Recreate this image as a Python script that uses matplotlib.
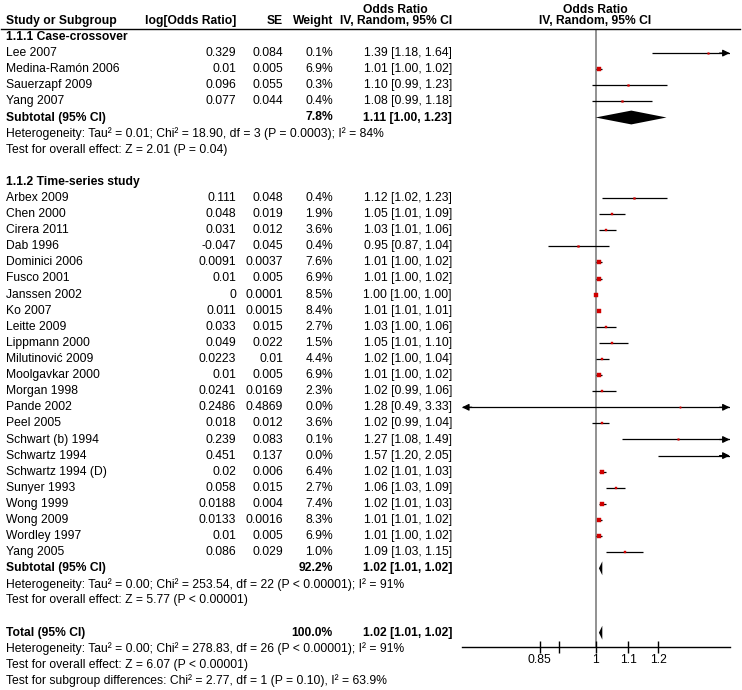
import matplotlib
matplotlib.use("Agg")
import matplotlib.pyplot as plt
from matplotlib.lines import Line2D
import numpy as np

plt.rcParams['font.family'] = ['Liberation Sans', 'DejaVu Sans']

# ---------------- data ----------------
group1_name = "1.1.1 Case-crossover"
group1_studies = ["Lee 2007", "Medina-Ramón 2006", "Sauerzapf 2009", "Yang 2007"]
group1_log = ["0.329", "0.01", "0.096", "0.077"]
group1_se = ["0.084", "0.005", "0.055", "0.044"]
group1_weight = [0.1, 6.9, 0.3, 0.4]
group1_or = [1.39, 1.01, 1.10, 1.08]
group1_lo = [1.18, 1.00, 0.99, 0.99]
group1_hi = [1.64, 1.02, 1.23, 1.18]
group1_sub = (7.8, 1.11, 1.00, 1.23)
group1_het = "Heterogeneity: Tau² = 0.01; Chi² = 18.90, df = 3 (P = 0.0003); I² = 84%"
group1_test = "Test for overall effect: Z = 2.01 (P = 0.04)"

group2_name = "1.1.2 Time-series study"
group2_studies = ["Arbex 2009", "Chen 2000", "Cirera 2011", "Dab 1996", "Dominici 2006",
                  "Fusco 2001", "Janssen 2002", "Ko 2007", "Leitte 2009", "Lippmann 2000",
                  "Milutinović 2009", "Moolgavkar 2000", "Morgan 1998", "Pande 2002",
                  "Peel 2005", "Schwart (b) 1994", "Schwartz 1994", "Schwartz 1994 (D)",
                  "Sunyer 1993", "Wong 1999", "Wong 2009", "Wordley 1997", "Yang 2005"]
group2_log = ["0.111", "0.048", "0.031", "-0.047", "0.0091", "0.01", "0", "0.011", "0.033",
              "0.049", "0.0223", "0.01", "0.0241", "0.2486", "0.018", "0.239", "0.451",
              "0.02", "0.058", "0.0188", "0.0133", "0.01", "0.086"]
group2_se = ["0.048", "0.019", "0.012", "0.045", "0.0037", "0.005", "0.0001", "0.0015",
             "0.015", "0.022", "0.01", "0.005", "0.0169", "0.4869", "0.012", "0.083",
             "0.137", "0.006", "0.015", "0.004", "0.0016", "0.005", "0.029"]
group2_weight = [0.4, 1.9, 3.6, 0.4, 7.6, 6.9, 8.5, 8.4, 2.7, 1.5, 4.4, 6.9, 2.3, 0.0,
                 3.6, 0.1, 0.0, 6.4, 2.7, 7.4, 8.3, 6.9, 1.0]
group2_or = [1.12, 1.05, 1.03, 0.95, 1.01, 1.01, 1.00, 1.01, 1.03, 1.05, 1.02, 1.01, 1.02,
             1.28, 1.02, 1.27, 1.57, 1.02, 1.06, 1.02, 1.01, 1.01, 1.09]
group2_lo = [1.02, 1.01, 1.01, 0.87, 1.00, 1.00, 1.00, 1.01, 1.00, 1.01, 1.00, 1.00, 0.99,
             0.49, 0.99, 1.08, 1.20, 1.01, 1.03, 1.01, 1.01, 1.00, 1.03]
group2_hi = [1.23, 1.09, 1.06, 1.04, 1.02, 1.02, 1.00, 1.01, 1.06, 1.10, 1.04, 1.02, 1.06,
             3.33, 1.04, 1.49, 2.05, 1.03, 1.09, 1.03, 1.02, 1.02, 1.15]
group2_sub = (92.2, 1.02, 1.01, 1.02)
group2_het = "Heterogeneity: Tau² = 0.00; Chi² = 253.54, df = 22 (P < 0.00001); I² = 91%"
group2_test = "Test for overall effect: Z = 5.77 (P < 0.00001)"

total = (100.0, 1.02, 1.01, 1.02)
total_het = "Heterogeneity: Tau² = 0.00; Chi² = 278.83, df = 26 (P < 0.00001); I² = 91%"
total_test = "Test for overall effect: Z = 6.07 (P < 0.00001)"
subgroup_test = "Test for subgroup differences: Chi² = 2.77, df = 1 (P = 0.10), I² = 63.9%"

xticks = [0.85, 0.9, 1, 1.1, 1.2]
xticklabels = ["0.85", "", "1", "1.1", "1.2"]
xlim = (0.677, 1.48)

# ---------------- layout ----------------
W, H = 742, 690
fig = plt.figure(figsize=(W / 100, H / 100), dpi=100)
FS = 8.7
ROW0 = 37.0   # pixel y of row 0
DY = 16.1     # pixel spacing of rows

def fy(row):
    return 1 - (ROW0 + DY * row) / H

def fx(px):
    return px / W

X_NAME, X_LOG, X_SE, X_W, X_CI = 6, 236, 283, 333, 452

def put(px, row, s, ha='left', bold=False):
    fig.text(fx(px), fy(row), s, ha=ha, va='center', fontsize=FS,
             fontweight='bold' if bold else 'normal', color='black')

# headers
put(395, -1.7, "Odds Ratio", ha='center', bold=True)
put(X_NAME, -1.0, "Study or Subgroup", bold=True)
put(X_LOG, -1.0, "log[Odds Ratio]", ha='right', bold=True)
put(X_SE, -1.0, "SE", ha='right', bold=True)
put(X_W, -1.0, "Weight", ha='right', bold=True)
put(X_CI, -1.0, "IV, Random, 95% CI", ha='right', bold=True)
put(595, -1.7, "Odds Ratio", ha='center', bold=True)
put(595, -1.0, "IV, Random, 95% CI", ha='center', bold=True)
fig.add_artist(Line2D([fx(1), fx(740)], [1 - 28.5 / H, 1 - 28.5 / H], color='black', lw=1.0))

# forest axes
ax_left, ax_right = 461.7, 730.0
ax_top, ax_bot = 28.5, 647.3
ax = fig.add_axes([fx(ax_left), 1 - ax_bot / H, (ax_right - ax_left) / W, (ax_bot - ax_top) / H])
ax.set_xscale('log')
ax.set_xlim(*xlim)
ax.set_ylim((ax_bot - ROW0) / DY, (ax_top - ROW0) / DY)
for s in ['top', 'left', 'right']:
    ax.spines[s].set_visible(False)
ax.spines['bottom'].set_linewidth(1.0)
ax.set_yticks([])
ax.set_xticks(xticks)
ax.set_xticklabels(xticklabels)
ax.xaxis.set_minor_locator(matplotlib.ticker.NullLocator())
ax.tick_params(axis='x', direction='inout', length=8, width=1.0, labelsize=FS, pad=1)
ax.patch.set_alpha(0)
ax.axvline(1, color='#7f7f7f', lw=1.2, zorder=1)

def study_rows(start, names, logs, ses, ws, ors, los, his):
    for i, (n, lg, se, w, o, lo, hi) in enumerate(zip(names, logs, ses, ws, ors, los, his)):
        r = start + i
        put(X_NAME, r, n)
        put(X_LOG, r, lg, ha='right')
        put(X_SE, r, se, ha='right')
        put(X_W, r, f"{w:.1f}%", ha='right')
        put(X_CI, r, f"{o:.2f} [{lo:.2f}, {hi:.2f}]", ha='right')
        a = max(lo, xlim[0])
        b = min(hi, xlim[1])
        ax.plot([a, b], [r, r], color='black', lw=0.9, zorder=2, solid_capstyle='butt')
        if hi > xlim[1]:
            ax.annotate('', xy=(xlim[1] * 0.999, r), xytext=(xlim[1] * 0.97, r),
                        arrowprops=dict(arrowstyle='-|>', color='black', lw=0.9,
                                        mutation_scale=10, shrinkA=0, shrinkB=0))
        if lo < xlim[0]:
            ax.annotate('', xy=(xlim[0] * 1.001, r), xytext=(xlim[0] * 1.03, r),
                        arrowprops=dict(arrowstyle='-|>', color='black', lw=0.9,
                                        mutation_scale=10, shrinkA=0, shrinkB=0))
        ms = 1.0 + 0.5 * np.sqrt(w)
        ax.plot([o], [r], marker='s', ms=ms, color='#d00000', mec='#d00000', mew=0.3, zorder=3,
                linestyle='none')

def diamond(r, est, lo, hi, h=0.43):
    ax.fill([lo, est, hi, est], [r, r - h, r, r + h], color='black', zorder=3, lw=0)

def summary(r, label, vals):
    w, o, lo, hi = vals
    put(X_NAME, r, label, bold=True)
    put(X_W, r, f"{w:.1f}%", ha='right', bold=True)
    put(X_CI, r, f"{o:.2f} [{lo:.2f}, {hi:.2f}]", ha='right', bold=True)
    diamond(r, o, lo, hi)

# group 1
put(X_NAME, 0, group1_name, bold=True)
study_rows(1, group1_studies, group1_log, group1_se, group1_weight, group1_or, group1_lo, group1_hi)
r = 1 + len(group1_studies)
summary(r, "Subtotal (95% CI)", group1_sub)
put(X_NAME, r + 1, group1_het)
put(X_NAME, r + 2, group1_test)

# group 2
r2 = r + 4
put(X_NAME, r2, group2_name, bold=True)
study_rows(r2 + 1, group2_studies, group2_log, group2_se, group2_weight, group2_or, group2_lo, group2_hi)
r = r2 + 1 + len(group2_studies)
summary(r, "Subtotal (95% CI)", group2_sub)
put(X_NAME, r + 1, group2_het)
put(X_NAME, r + 2, group2_test)

# total
rt = r + 4
summary(rt, "Total (95% CI)", total)
put(X_NAME, rt + 1, total_het)
put(X_NAME, rt + 2, total_test)
put(X_NAME, rt + 3, subgroup_test)

fig.savefig("out.png", dpi=100, facecolor='white')
